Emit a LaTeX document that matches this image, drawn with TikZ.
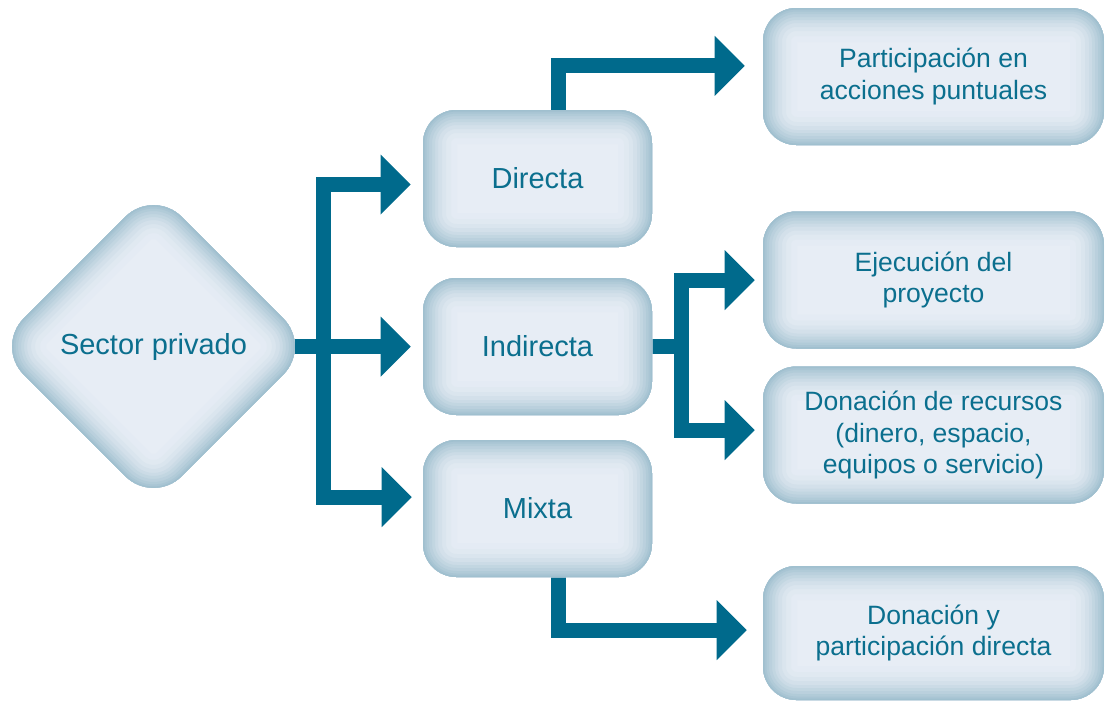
\documentclass[tikz,border=0pt]{standalone}
\usepackage{fontspec}
\setmainfont{Liberation Sans}
\usepackage{xcolor}
\usetikzlibrary{arrows.meta,shapes.geometric,backgrounds}
\definecolor{vteal}{HTML}{006A8C}
\definecolor{vtext}{HTML}{0B6F8E}
\definecolor{vedge}{HTML}{A0C0CF}
\definecolor{vfill}{HTML}{E7EDF5}

\tikzset{
	bigtri/.tip={Triangle[length=22.5pt,width=45pt,line width=0pt]},
	flow/.style={draw=vteal, line width=11.25pt, line join=miter, -bigtri},
	glow/.style={
		path picture={
			\foreach \w/\p in {51/4,42/10,34.5/18,28.5/28,22.5/40,18/52,13.5/64,9/76,5.25/88,2.25/100}
				\draw[line width=\w pt, vedge!\p!vfill, #1];
		}},
	box/.style={rectangle, rounded corners=25pt, inner sep=0pt, fill=vfill, text=vtext, align=center,
		minimum width=171.75pt, minimum height=102.75pt,
		font=\fontsize{21.75}{26}\selectfont,
		glow={rounded corners=25pt, insert path={(path picture bounding box.south west) rectangle (path picture bounding box.north east)}}},
	wide/.style={box, minimum width=255.75pt, font=\fontsize{19.9}{23.6}\selectfont},
	rhomb/.style={diamond, rounded corners=30pt, inner sep=0pt, fill=vfill, text=vtext,
		minimum width=237pt, minimum height=237pt,
		font=\fontsize{21.75}{26}\selectfont,
		glow={rounded corners=30pt, insert path={([xshift=-118.5pt]path picture bounding box.center) -- ([yshift=118.5pt]path picture bounding box.center) -- ([xshift=118.5pt]path picture bounding box.center) -- ([yshift=-118.5pt]path picture bounding box.center) -- cycle}}},
}

\begin{document}
\begin{tikzpicture}[x=0.75pt, y=-0.75pt]
	\useasboundingbox (0,0) rectangle (1105,701);

	% left side
	\node[rhomb] (sp) at (153.5,346.5) {Sector privado};
	\node[box] (dir) at (537.5,178.5) {Directa};
	\node[box] (ind) at (537.5,346.5) {Indirecta};
	\node[box] (mix) at (537.5,508.5) {Mixta};

	% right side
	\node[wide] (par) at (933.5,76.5) {Participación en\\acciones puntuales};
	\node[wide] (eje) at (933.5,280) {Ejecución del\\proyecto};
	\node[wide] (don) at (933.5,435) {Donación de recursos\\(dinero, espacio,\\equipos o servicio)};
	\node[wide, minimum height=100.5pt] (dyp) at (933.5,633) {Donación y\\participación directa};

	\coordinate (bus) at (323.5,346.5);
	\coordinate (bus2) at (681,346.5);

	\begin{pgfonlayer}{background}
		\draw[flow, bigtri-bigtri, shorten <=9pt, shorten >=8.25pt] ([yshift=-4.5pt]dir.west) -| (bus) |- ([yshift=8.6pt]mix.west);
		\draw[flow, shorten >=9pt] (sp.center) -- (ind.west);
		\draw[flow, shorten >=13.5pt] ([xshift=15.4pt]dir.center) |- ([yshift=7.9pt]par.west);
		\draw[flow, -] (ind.center) -- (bus2);
		\draw[flow, bigtri-bigtri, shorten <=6pt, shorten >=6pt] (eje.west) -| (bus2) |- ([yshift=3.75pt]don.west);
		\draw[flow, shorten >=12pt] ([xshift=15.4pt]mix.center) |- ([yshift=2.25pt]dyp.west);
	\end{pgfonlayer}
\end{tikzpicture}
\end{document}
